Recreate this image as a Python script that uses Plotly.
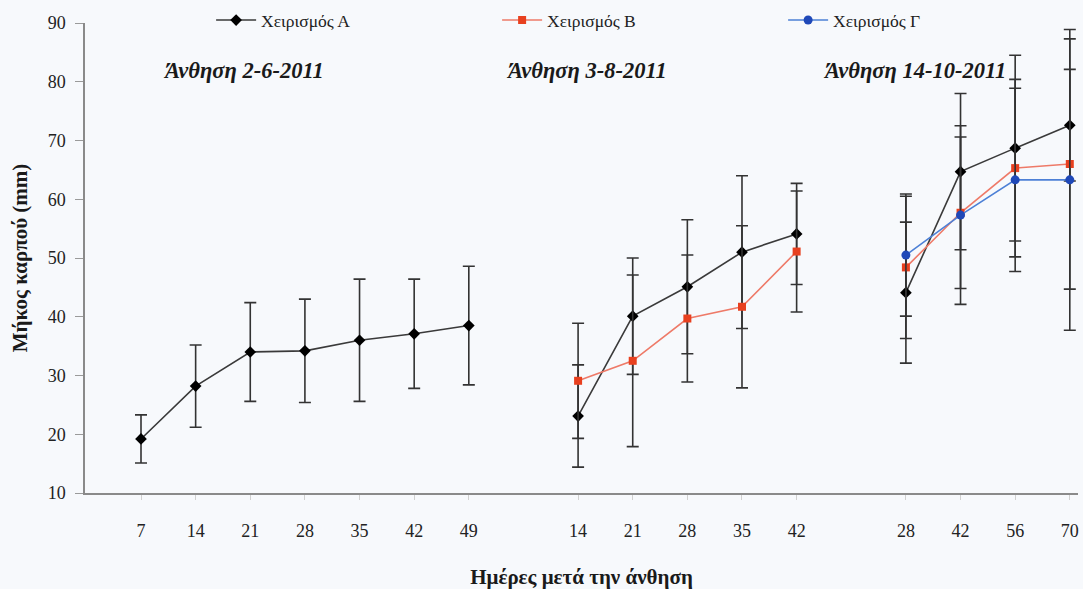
import plotly.graph_objects as go

# Category slots along the x axis (blank slots separate the three flowering dates)
day_labels = ["7", "14", "21", "28", "35", "42", "49", "",
              "14", "21", "28", "35", "42", "",
              "28", "42", "56", "70"]

# Mean fruit length (mm) and error (±) per treatment; None = no measurement
a_mean = [19.2, 28.2, 34.0, 34.2, 36.0, 37.1, 38.5, None,
          23.1, 40.1, 45.1, 51.0, 54.1, None,
          44.1, 64.7, 68.7, 72.6]
a_err = [4.1, 7.0, 8.4, 8.8, 10.4, 9.3, 10.1, None,
         8.7, 9.9, 11.4, 13.0, 8.6, None,
         12.0, 13.3, 15.8, 9.5]

b_mean = [None] * 8 + [29.1, 32.5, 39.7, 41.7, 51.1, None,
                       48.4, 57.7, 65.3, 66.0]
b_err = [None] * 8 + [9.8, 14.6, 10.8, 13.8, 10.3, None,
                      12.1, 12.9, 15.1, 21.3]

c_mean = [None] * 14 + [50.5, 57.3, 63.3, 63.3]
c_err = [None] * 14 + [10.4, 15.2, 15.6, 25.6]

flowering = ["Άνθηση 2-6-2011", "Άνθηση 3-8-2011", "Άνθηση 14-10-2011"]
flowering_pos = [1.87, 8.16, 14.16]

positions = list(range(len(day_labels)))
tick_pos = [p for p, t in zip(positions, day_labels) if t]
tick_txt = [t for t in day_labels if t]

SERIF = "Liberation Serif, Times New Roman, serif"
ERR_COLOR = "#333333"

series = [
    ("Χειρισμός Α", a_mean, a_err, "#3a3a3a", "#000000", "diamond", 9),
    ("Χειρισμός Β", b_mean, b_err, "#ee7a68", "#e8401f", "square", 8),
    ("Χειρισμός Γ", c_mean, c_err, "#4d80d6", "#1f48b8", "circle", 9),
]

fig = go.Figure()
for name, mean, err, lcol, mcol, sym, msize in series:
    fig.add_trace(go.Scatter(
        x=positions, y=mean, name=name, mode="lines+markers",
        connectgaps=False,
        line=dict(color=lcol, width=1.6),
        marker=dict(color=mcol, symbol=sym, size=msize),
        error_y=dict(type="data", array=[e if e is not None else 0 for e in err],
                     visible=True, color=ERR_COLOR, thickness=1.6, width=6),
    ))

for txt, xp in zip(flowering, flowering_pos):
    fig.add_annotation(x=xp, y=82.0, xref="x", yref="y", text=f"<b><i>{txt}</i></b>",
                       showarrow=False, font=dict(family=SERIF, size=22.5, color="#1a1a1a"))

fig.update_layout(
    width=1083, height=589,
    margin=dict(l=85, r=5, t=23, b=96, autoexpand=False),
    paper_bgcolor="#f7f9fc", plot_bgcolor="#f7f9fc",
    font=dict(family=SERIF, size=16, color="#222222"),
    showlegend=True,
    legend=dict(orientation="h", x=0.127, y=1.006, xanchor="left", yanchor="middle",
                bgcolor="rgba(0,0,0,0)", font=dict(family=SERIF, size=17.5, color="#222222"),
                itemwidth=40, entrywidth=231, entrywidthmode="pixels", tracegroupgap=0),
    xaxis=dict(
        range=[-1.025, 17.15], tickmode="array", tickvals=tick_pos, ticktext=tick_txt,
        showgrid=False, zeroline=False, showline=True, linecolor="#8a8a8a", linewidth=1.5,
        ticks="outside", ticklen=5, tickcolor="#d0d0d0", ticklabelstandoff=16,
        tickfont=dict(family=SERIF, size=18, color="#222222"),
        title=dict(text="<b>Ημέρες μετά την άνθηση</b>", standoff=34,
                   font=dict(family=SERIF, size=21, color="#1a1a1a")),
    ),
    yaxis=dict(
        range=[10, 90], dtick=10, showgrid=False, zeroline=False,
        showline=True, linecolor="#8a8a8a", linewidth=1.5,
        ticks="outside", ticklen=8, tickcolor="#9a9a9a", ticklabelstandoff=6,
        tickfont=dict(family=SERIF, size=18, color="#222222"),
        title=dict(text="<b>Μήκος καρπού (mm)</b>", standoff=14,
                   font=dict(family=SERIF, size=21, color="#1a1a1a")),
    ),
)

fig.write_html("out.html")
